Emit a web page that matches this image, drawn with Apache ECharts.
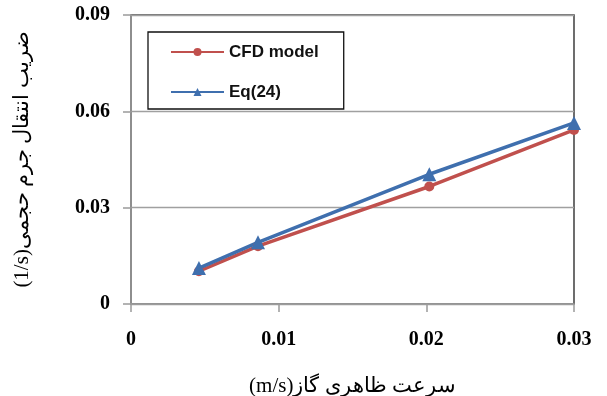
<!DOCTYPE html>
<html>
<head>
<meta charset="utf-8">
<script src="https://cdn.jsdelivr.net/npm/echarts@6/dist/echarts.min.js"></script>
<style>html,body{margin:0;padding:0;background:#fff}#c{width:607px;height:396px}</style>
</head>
<body>
<div id="c"></div>
<script>
var xValues = [0.0046, 0.0086, 0.0202, 0.03];
var cfdModel = [0.0102, 0.0180, 0.0366, 0.0542];
var eq24 = [0.0112, 0.0192, 0.0404, 0.0564];
var seriesNames = ['CFD model', 'Eq(24)'];
var xTitle = '(m/s)سرعت ظاهری گاز';
var yTitle = '(1/s)ضریب انتقال جرم حجمی';

function pairs(xs, ys) { return xs.map(function (x, i) { return [x, ys[i]]; }); }

var chart = echarts.init(document.getElementById('c'), null, { renderer: 'canvas' });
var labelFont = { fontFamily: 'Liberation Serif', fontWeight: 'bold', fontSize: 20, color: '#000' };
chart.setOption({
  animation: false,
  backgroundColor: '#fff',
  grid: { left: 131, right: 33, top: 15, bottom: 92, outerBoundsMode: 'none', containLabel: false, show: true, borderColor: '#4a4a4a', borderWidth: 1.6, backgroundColor: 'transparent' },
  legend: {
    orient: 'vertical', left: 148, top: 32,
    padding: [11, 25, 8, 22],
    borderColor: '#111', borderWidth: 1.3,
    itemWidth: 53, itemHeight: 10, itemGap: 22,
    textStyle: { fontFamily: 'Liberation Sans', fontWeight: 'bold', fontSize: 17, lineHeight: 18, color: '#111' },
    data: seriesNames
  },
  xAxis: {
    type: 'value', min: 0, max: 0.03, interval: 0.01,
    name: xTitle, nameLocation: 'middle', nameGap: 72,
    nameTextStyle: { fontFamily: 'Liberation Serif', fontSize: 21, color: '#000' },
    axisLine: { show: true, lineStyle: { color: '#9a9a9a', width: 1.5 } },
    axisTick: { show: true, length: 8, lineStyle: { color: '#9a9a9a', width: 1.5 } },
    axisLabel: Object.assign({ margin: 26 }, labelFont),
    splitLine: { show: false }
  },
  yAxis: {
    type: 'value', min: 0, max: 0.09, interval: 0.03,
    name: yTitle, nameLocation: 'middle', nameGap: 98, nameRotate: 90,
    nameTextStyle: { fontFamily: 'Liberation Serif', fontSize: 21, color: '#000' },
    axisLine: { show: true, lineStyle: { color: '#9a9a9a', width: 1.5 } },
    axisTick: { show: true, length: 8, lineStyle: { color: '#9a9a9a', width: 1.5 } },
    axisLabel: Object.assign({ margin: 21 }, labelFont),
    splitLine: { show: true, lineStyle: { color: '#a0a0a0', width: 1.4 } }
  },
  series: [
    {
      name: seriesNames[0], type: 'line', data: pairs(xValues, cfdModel),
      symbol: 'circle', symbolSize: 10, color: '#C0504D',
      lineStyle: { width: 3.5, color: '#C0504D' },
      itemStyle: { color: '#C0504D' }
    },
    {
      name: seriesNames[1], type: 'line', data: pairs(xValues, eq24),
      symbol: 'triangle', symbolSize: 14, color: '#3F6FAE',
      lineStyle: { width: 3.5, color: '#3F6FAE' },
      itemStyle: { color: '#3F6FAE' }
    }
  ]
});
</script>
</body>
</html>
